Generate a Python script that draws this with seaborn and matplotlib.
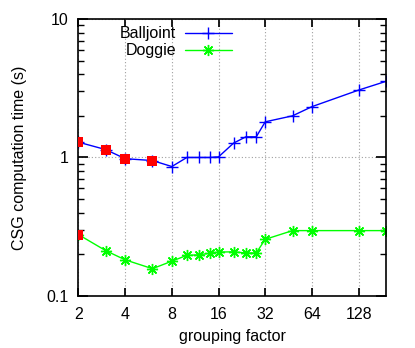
import matplotlib
matplotlib.use("Agg")
import matplotlib.pyplot as plt
import matplotlib.ticker as mticker
import numpy as np
import pandas as pd
import seaborn as sns

# grouping factor values
group_factor = [2, 3, 4, 6, 8, 10, 12, 14, 16, 20, 24, 28, 32, 48, 64, 128, 192]

balljoint_time = [1.29, 1.14, 0.98, 0.95, 0.86, 1.00, 1.00, 1.00, 1.01,
                  1.27, 1.41, 1.41, 1.81, 2.00, 2.33, 3.07, 3.55]
doggie_time = [0.277, 0.212, 0.182, 0.157, 0.178, 0.196, 0.198, 0.203, 0.207,
               0.208, 0.204, 0.204, 0.256, 0.296, 0.296, 0.296, 0.296]

# highlighted (red) points
highlight_x = [2, 3, 4, 6, 2]
highlight_y = [1.29, 1.14, 0.98, 0.95, 0.277]

x_ticks = [2, 4, 8, 16, 32, 64, 128]
y_ticks = [0.1, 1, 10]
y_tick_labels = ["0.1", "1", "10"]

series_names = ["Balljoint", "Doggie"]
series_colors = ["#0000ff", "#00ff00"]
series_markers = ["+", (8, 2, 0)]

FS = 11.5


def setup_style() -> None:
    sns.set_theme(style="ticks")
    plt.rcParams.update(
        {
            "font.family": ["Liberation Sans", "DejaVu Sans"],
            "font.size": FS,
            "text.color": "black",
            "axes.labelcolor": "black",
            "axes.edgecolor": "black",
            "axes.linewidth": 1.2,
            "xtick.direction": "in",
            "ytick.direction": "in",
            "xtick.top": True,
            "ytick.right": True,
            "xtick.major.size": 6,
            "ytick.major.size": 7,
            "ytick.minor.size": 4,
            "xtick.labelsize": FS,
            "ytick.labelsize": FS,
            "xtick.color": "black",
            "ytick.color": "black",
            "xtick.labelcolor": "black",
            "ytick.labelcolor": "black",
        }
    )


def main() -> None:
    setup_style()
    df = pd.DataFrame(
        {"factor": group_factor, "Balljoint": balljoint_time, "Doggie": doggie_time}
    )
    hl = pd.DataFrame({"factor": highlight_x, "time": highlight_y})

    fig = plt.figure(figsize=(4.15, 3.48), dpi=100)
    ax = fig.add_axes([0.189, 0.150, 0.741, 0.795])

    for name, col, mk in zip(series_names, series_colors, series_markers):
        sns.lineplot(data=df, x="factor", y=name, color=col, lw=1.0,
                     marker=mk, markersize=8, markeredgewidth=1.0,
                     markeredgecolor=col, ax=ax)
    sns.scatterplot(data=hl, x="factor", y="time", marker="s", color="#ff0000",
                    s=50, linewidth=0, zorder=5, ax=ax)

    ax.set_xscale("log", base=2)
    ax.set_yscale("log")
    ax.set_xlim(2, 192)
    ax.set_ylim(0.1, 10)
    ax.set_xticks(x_ticks)
    ax.xaxis.set_major_formatter(mticker.FixedFormatter([str(t) for t in x_ticks]))
    ax.xaxis.set_minor_locator(mticker.NullLocator())
    ax.set_yticks(y_ticks)
    ax.yaxis.set_major_formatter(mticker.FixedFormatter(y_tick_labels))
    ax.yaxis.set_minor_locator(mticker.LogLocator(base=10, subs=np.arange(2, 10)))
    ax.yaxis.set_minor_formatter(mticker.NullFormatter())
    ax.tick_params(axis="x", pad=8)
    ax.tick_params(axis="y", pad=7)
    ax.grid(True, which="major", color="#a0a0a0", linestyle=(0, (1, 2)), lw=0.8)

    ax.set_xlabel("grouping factor", fontsize=FS, labelpad=5)
    ax.set_ylabel("CSG computation time (s)", fontsize=FS, labelpad=14)

    # gnuplot-style key: right-aligned label followed by the sample
    for i, (name, col, mk) in enumerate(zip(series_names, series_colors, series_markers)):
        yk = 0.949 - i * 0.061
        ax.text(0.317, yk, name, transform=ax.transAxes, ha="right", va="center",
                fontsize=FS)
        ax.plot([0.345, 0.421, 0.499], [yk] * 3, color=col, lw=1.0, marker=mk,
                markersize=8, markeredgewidth=1.0, markevery=[1],
                transform=ax.transAxes, clip_on=False)

    fig.savefig("out.png", dpi=100)


if __name__ == "__main__":
    main()
